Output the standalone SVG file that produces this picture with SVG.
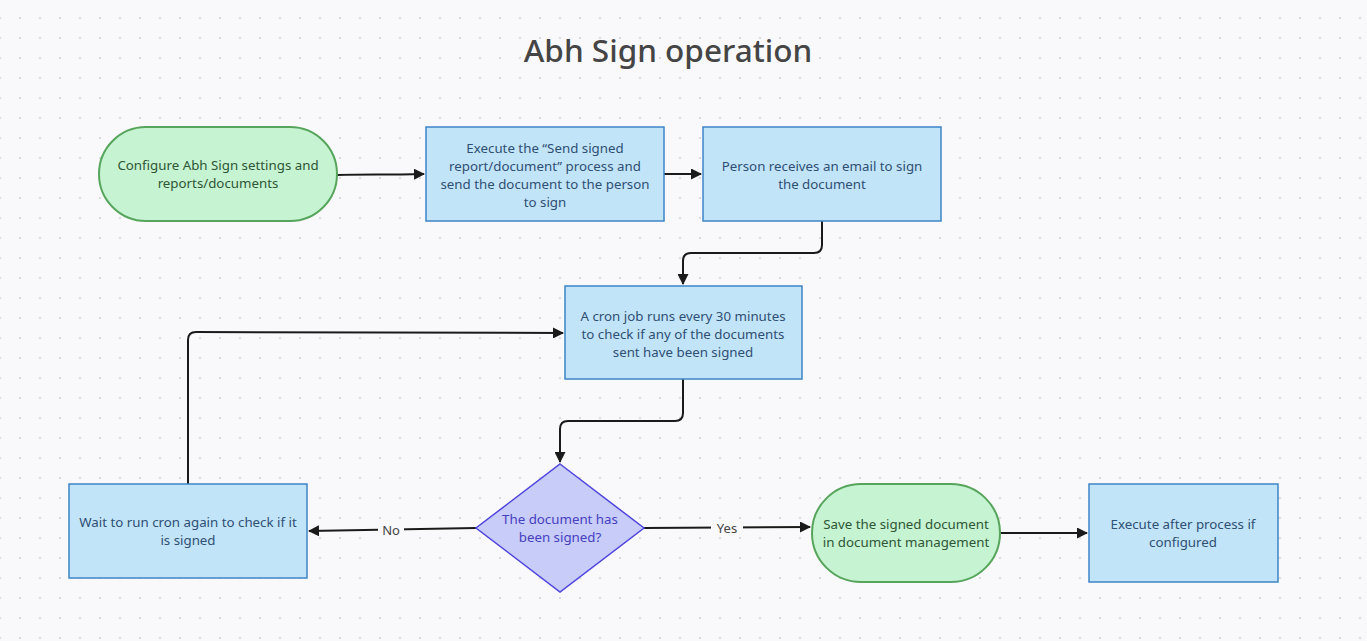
<svg xmlns="http://www.w3.org/2000/svg" width="1367" height="641" viewBox="0 0 1367 641">
<defs>
<pattern id="dots" x="0" y="18" width="20" height="20" patternUnits="userSpaceOnUse">
<circle cx="0" cy="0" r="1.2" fill="#dcdce0"/>
<circle cx="20" cy="0" r="1.2" fill="#dcdce0"/>
<circle cx="0" cy="20" r="1.2" fill="#dcdce0"/>
<circle cx="20" cy="20" r="1.2" fill="#dcdce0"/>
</pattern>
<marker id="arr" viewBox="0 0 11 11" refX="10" refY="5.5" markerWidth="11" markerHeight="11" markerUnits="userSpaceOnUse" orient="auto">
<path d="M0,0 L11,5.5 L0,11 z" fill="#1a1a1a"/>
</marker>
<style>
text{font-family:"Noto Sans","Open Sans","Liberation Sans",sans-serif;font-size:13.3px;text-anchor:middle}
.rect{fill:#c2e4f8;stroke:#3d85c6;stroke-width:1.5}
.rect-t{fill:#2f4f74}
.green{fill:#c6f3d2;stroke:#57a55c;stroke-width:2}
.green-t{fill:#2e5635}
.dia{fill:#c8ccf8;stroke:#4f44de;stroke-width:1.5}
.dia-t{fill:#4540c0}
.edge{fill:none;stroke:#1a1a1a;stroke-width:2;marker-end:url(#arr)}
.lbl{fill:#444;font-size:13px}
</style>
</defs>
<rect width="1367" height="641" fill="#f9f9fb"/>
<rect width="1367" height="641" fill="url(#dots)"/>
<text x="668" y="62" style="font-size:31.5px;font-weight:500;fill:#454545">Abh Sign operation</text>

<g id="connectors">
<path class="edge" d="M337,175 C370,174 380,175 424,174"/>
<path class="edge" d="M664,174 L701,174"/>
<path class="edge" d="M822,221 L822,245 Q822,253 814,253 L691,253 Q683,253 683,261 L683,284"/>
<path class="edge" d="M683,379 L683,413 Q683,421 675,421 L568,421 Q560,421 560,429 L560,462"/>
<path class="edge" d="M476,528 L309,531"/>
<path class="edge" d="M644,528 L810,527"/>
<path class="edge" d="M1000,533 L1087,533"/>
<path class="edge" d="M188,484 L188,340 Q188,332 196,332 L563,333"/>
<rect x="378" y="521" width="26" height="18" fill="#f9f9fb"/>
<text class="lbl" x="391" y="535">No</text>
<rect x="711" y="519" width="32" height="18" fill="#f9f9fb"/>
<text class="lbl" x="727" y="533">Yes</text>
</g>

<g id="n1">
<rect class="green" x="99" y="127" width="238" height="94" rx="47"/>
<text class="green-t" x="218" y="170">Configure Abh Sign settings and</text>
<text class="green-t" x="218" y="188">reports/documents</text>
</g>
<g id="n2">
<rect class="rect" x="426" y="127" width="238" height="94"/>
<text class="rect-t" x="545" y="153">Execute the “Send signed</text>
<text class="rect-t" x="545" y="171">report/document” process and</text>
<text class="rect-t" x="545" y="189">send the document to the person</text>
<text class="rect-t" x="545" y="207">to sign</text>
</g>
<g id="n3">
<rect class="rect" x="703" y="127" width="238" height="94"/>
<text class="rect-t" x="822" y="171">Person receives an email to sign</text>
<text class="rect-t" x="822" y="189">the document</text>
</g>
<g id="n4">
<rect class="rect" x="565" y="286" width="237" height="93"/>
<text class="rect-t" x="683" y="321">A cron job runs every 30 minutes</text>
<text class="rect-t" x="683" y="339">to check if any of the documents</text>
<text class="rect-t" x="683" y="357">sent have been signed</text>
</g>
<g id="n5">
<path class="dia" d="M560,464 L644,528 L560,592 L476,528 Z"/>
<text class="dia-t" x="560" y="524">The document has</text>
<text class="dia-t" x="560" y="542">been signed?</text>
</g>
<g id="n6">
<rect class="rect" x="69" y="484" width="238" height="94"/>
<text class="rect-t" x="188" y="527">Wait to run cron again to check if it</text>
<text class="rect-t" x="188" y="545">is signed</text>
</g>
<g id="n7">
<rect class="green" x="812" y="484" width="188" height="98" rx="49"/>
<text class="green-t" x="906" y="529">Save the signed document</text>
<text class="green-t" x="906" y="547">in document management</text>
</g>
<g id="n8">
<rect class="rect" x="1089" y="484" width="189" height="98"/>
<text class="rect-t" x="1183" y="529">Execute after process if</text>
<text class="rect-t" x="1183" y="547">configured</text>
</g>
</svg>
